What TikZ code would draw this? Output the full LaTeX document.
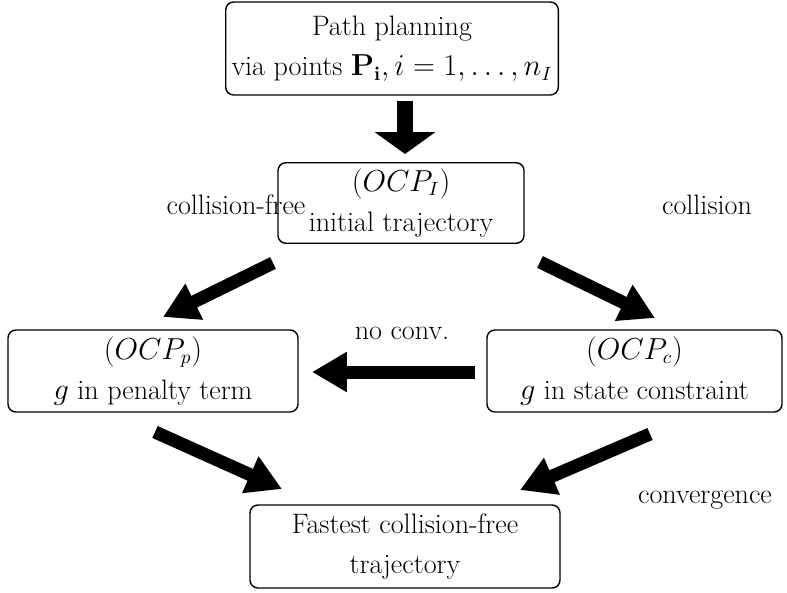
\documentclass[tikz,border=0pt]{standalone}
\usepackage{amsmath}
\usepackage{amssymb}
\usetikzlibrary{arrows.meta}
\tikzset{
    box/.style={draw, rounded corners=4.5pt, line width=0.8pt, align=center,
    	font=\fontsize{16}{23}\selectfont}
}
\tikzset{
    lbl/.style={font=\fontsize{16}{18}\selectfont}
}
\tikzset{
    fatarrow/.style={line width=7.4pt, -{Triangle[length=19.8pt,width=21.5pt]}}
}

\begin{document}
\begin{tikzpicture}[x=0.02cm, y=-0.02cm]
	\useasboundingbox (0,0) rectangle (787,592);
	\node (plan) [box, minimum width=318*0.02cm, minimum height=93*0.02cm] at (392,48.5)
		{Path planning\\via points $\mathbf{P_i}, i=1,\dots,n_I$};
	\node (ocpI) [box, minimum width=246*0.02cm, minimum height=80*0.02cm] at (401,203)
		{$(OCP_I)$\\initial trajectory};
	\node (ocpp) [box, minimum width=290*0.02cm, minimum height=82*0.02cm] at (153,371)
		{$(OCP_p)$\\$g$ in penalty term};
	\node (ocpc) [box, minimum width=295*0.02cm, minimum height=82*0.02cm] at (634.5,371)
		{$(OCP_c)$\\$g$ in state constraint};
	\node (fast) [box, minimum width=310*0.02cm, minimum height=83*0.02cm] at (405,546.5)
		{Fastest collision-free\\trajectory};

	\node (free) [lbl] at (236,205) {collision-free};
	\node (coll) [lbl] at (707,205) {collision};
	\node (noconv) [lbl] at (402,333) {no conv.};
	\node (conv) [lbl] at (705,500) {convergence};

	\coordinate (d1) at (405,101); \coordinate (d2) at (405,154);
	\coordinate (l1) at (273,263); \coordinate (l2) at (163,317);
	\coordinate (r1) at (540,262); \coordinate (r2) at (655,318);
	\coordinate (h1) at (475,372); \coordinate (h2) at (312,372);
	\coordinate (p1) at (155,432); \coordinate (p2) at (282,489);
	\coordinate (c1) at (650,434); \coordinate (c2) at (520,490);

	\draw [line width=9.6pt, -{Triangle[length=12.5pt,width=34pt]}] (d1) -- (d2);
	\draw [fatarrow] (l1) -- (l2); \draw [fatarrow] (r1) -- (r2);
	\draw [fatarrow] (h1) -- (h2);
	\draw [fatarrow] (p1) -- (p2); \draw [fatarrow] (c1) -- (c2);
\end{tikzpicture}
\end{document}
